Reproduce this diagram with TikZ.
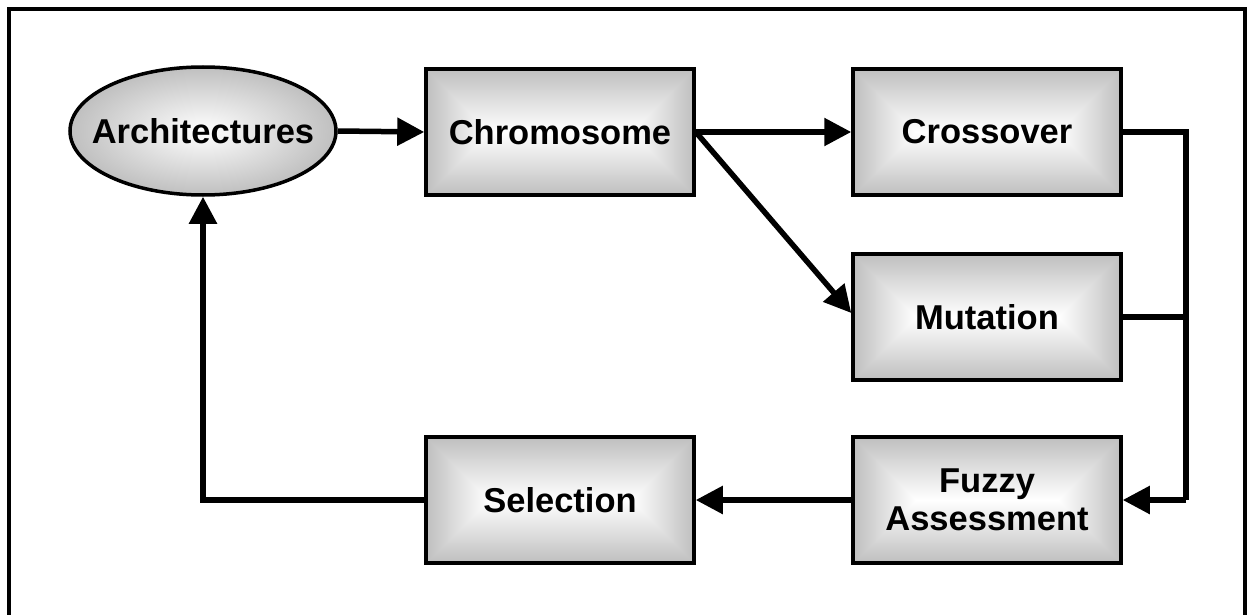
\documentclass[tikz,border=0pt]{standalone}
\usepackage{fontspec}
\setmainfont{Liberation Sans}
\usetikzlibrary{arrows.meta,calc,shapes.geometric}
\pgfdeclarefunctionalshading{rectfade}{\pgfpoint{-50bp}{-50bp}}{\pgfpoint{50bp}{50bp}}{}{abs exch abs 2.127 mul 28.17 sub 2 copy lt {exch} if pop 100 div neg 1 add dup dup}
\definecolor{edgegray}{gray}{0.75}
\begin{document}
\begin{tikzpicture}[x=1pt,y=-1pt,
  lbl/.style={font=\bfseries\fontsize{34.5}{38}\selectfont, text=black, align=center},
  box/.style={lbl, draw=black, line width=3.5pt, shading=rectfade, rectangle, minimum width=268pt, minimum height=126pt, inner sep=0pt},
  oval/.style={draw=black, line width=3.5pt, ellipse, shading=radial, inner color=white, outer color=edgegray, minimum width=266pt, minimum height=128pt, inner sep=0pt},
  conn/.style={line width=5.5pt, draw=black},
  arr/.style={conn, -{Triangle[length=27pt,width=27pt]}},
  frame/.style={line width=4.5pt, draw=black}
]
\useasboundingbox (0,0) rectangle (1247,615);
\fill[white] (0,0) rectangle (1247,615);
\begin{scope}
\clip (0,0) rectangle (1247,615);
\draw[frame] (9,9) rectangle (1245,650);
\end{scope}

\node[oval, label={[lbl]center:Architectures}] (arch) at (203,131) {};
\node[box] (chrom) at (560,132) {Chromosome};
\node[box] (cross) at (987,132) {Crossover};
\node[box] (mut) at (987,317) {Mutation};
\node[box] (fuzzy) at (987,500) {Fuzzy\\Assessment};
\node[box] (sel) at (560,500) {Selection};
\coordinate (j) at (1186,500);

\draw[arr] (arch.east) -- (chrom.west);
\draw[arr] (chrom.east) -- ([yshift=4pt]mut.west);
\draw[arr] (chrom.east) -- (cross.west);
\draw[conn, line join=miter] (cross.east) -- (cross.east -| j) -- (j);
\draw[conn] (mut.east) -- (mut.east -| j);
\draw[arr] (j) -- (fuzzy.east);
\draw[arr] (fuzzy.west) -- (sel.east);
\draw[arr, line join=miter] (sel.west) -| (arch.south);
\end{tikzpicture}
\end{document}
